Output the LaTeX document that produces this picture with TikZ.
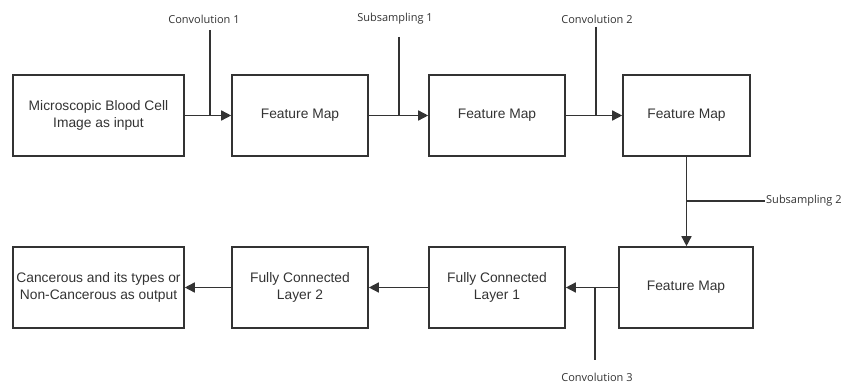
\documentclass[tikz,border=0pt]{standalone}
\usepackage{fontspec}
\setmainfont{Liberation Sans}
\newfontfamily\labfont{Open Sans}
\usetikzlibrary{arrows.meta}
\definecolor{ink}{HTML}{333333}
\definecolor{txt}{HTML}{333333}
\begin{document}
\begin{tikzpicture}[x=1pt,y=-1pt,
  blk/.style={draw=ink,line width=1.6pt,minimum height=81pt,align=center,text=txt,
    font=\fontsize{13.8}{17}\selectfont,inner sep=0pt},
  lab/.style={text=txt,font=\labfont\fontsize{11}{13}\selectfont,inner sep=1pt},
  conn/.style={draw=ink,line width=1.5pt},
  arr/.style={conn,-{Triangle[length=10pt,width=10pt]}}]
\useasboundingbox (0,0) rectangle (843,387);
% boxes
\node[blk,minimum width=171pt] (b1) at (98.5,115.5) {Microscopic Blood Cell\\Image as input};
\node[blk,minimum width=136pt] (b2) at (300,115.5) {Feature Map};
\node[blk,minimum width=136pt] (b3) at (497,115.5) {Feature Map};
\node[blk,minimum width=127pt] (b4) at (686.5,115.5) {Feature Map};
\node[blk,minimum width=134pt] (b5) at (686,287.5) {Feature Map};
\node[blk,minimum width=136pt] (b6) at (497,287.5) {Fully Connected\\Layer 1};
\node[blk,minimum width=136pt] (b7) at (300,287.5) {Fully Connected\\Layer 2};
\node[blk,minimum width=171pt] (b8) at (98.5,287.5) {Cancerous and its types or\\Non-Cancerous as output};
% labels
\node[lab] (l1) at (204,19) {Convolution 1};
\node[lab] (l2) at (395,19) {Subsampling 1};
\node[lab] (l3) at (597,19) {Convolution 2};
\node[lab,anchor=west] (l4) at (765,201) {Subsampling 2};
\node[lab] (l5) at (597,377) {Convolution 3};
% junctions
\coordinate (j1) at (210,115.5);
\coordinate (j2) at (399,115.5);
\coordinate (j3) at (596,115.5);
\coordinate (j4) at (686.5,201);
\coordinate (j5) at (595,287.5);
\coordinate (t1) at (210,30);
\coordinate (t2) at (399,37);
\coordinate (t3) at (596,27);
\coordinate (t5) at (595,360);
% main arrows
\draw[arr] (b1) -- (b2);
\draw[arr] (b2) -- (b3);
\draw[arr] (b3) -- (b4);
\draw[arr] (b4.south) -- (b4.south |- b5.north);
\draw[arr] (b5) -- (b6);
\draw[arr] (b6) -- (b7);
\draw[arr] (b7) -- (b8);
% side lines
\draw[conn] (t1) -- (j1);
\draw[conn] (t2) -- (j2);
\draw[conn] (t3) -- (j3);
\draw[conn] (j4) -- (l4.west);
\draw[conn] (j5) -- (t5);
\end{tikzpicture}
\end{document}
